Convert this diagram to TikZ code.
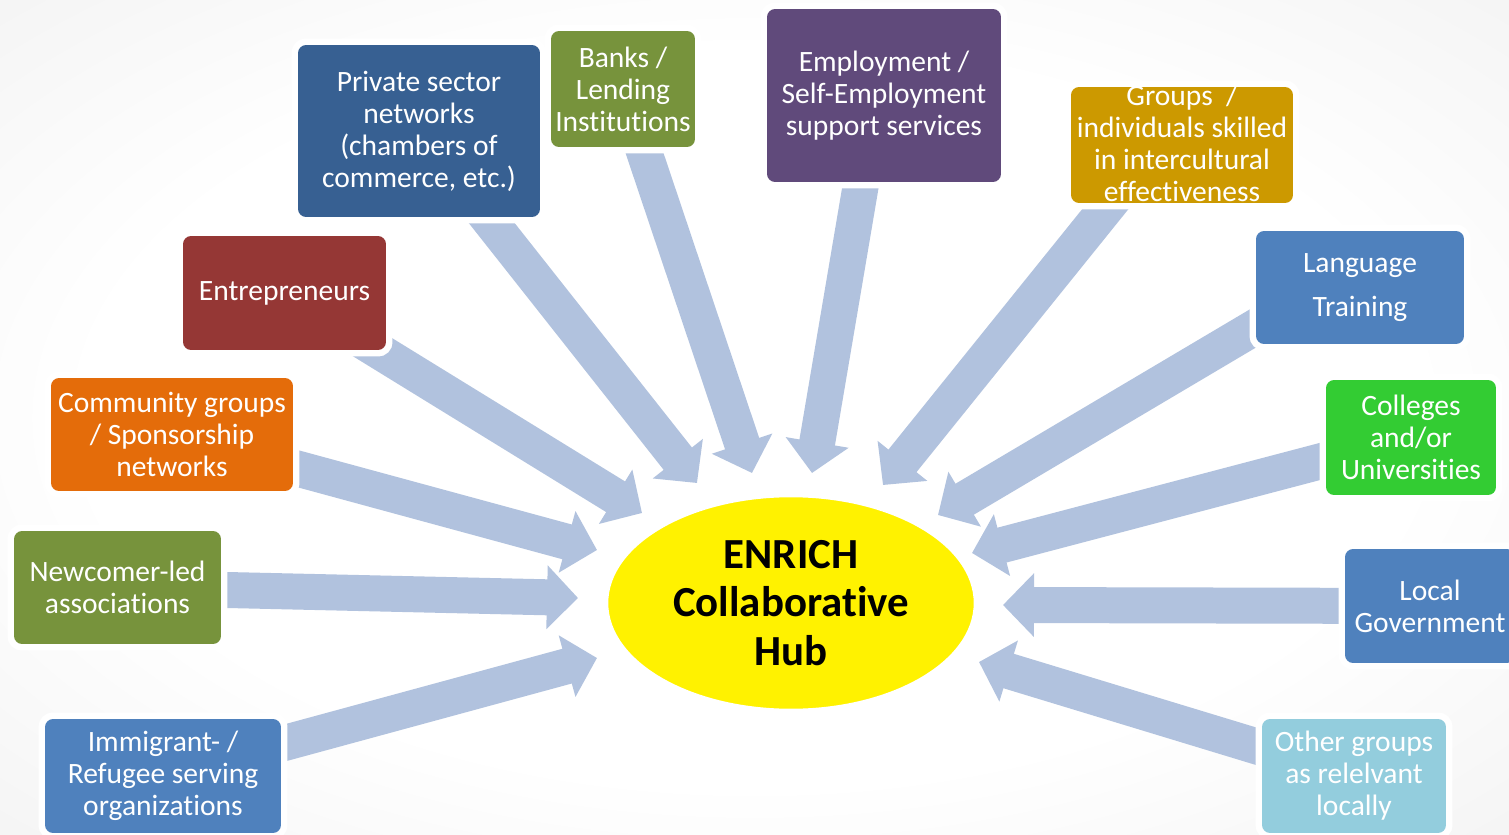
\documentclass[tikz,border=0pt]{standalone}
\usepackage{fontspec}
\setmainfont{Carlito}[Ligatures={NoCommon}]
\usetikzlibrary{calc,arrows.meta,shapes.geometric}
\pgfdeclarelayer{background}
\pgfsetlayers{background,main}
\definecolor{feedblue}{HTML}{B1C2DE}
\definecolor{privblue}{HTML}{376092}
\definecolor{bankgreen}{HTML}{77933C}
\definecolor{emplpurple}{HTML}{604A7B}
\definecolor{grpgold}{HTML}{CC9900}
\definecolor{officeblue}{HTML}{4F81BD}
\definecolor{collgreen}{HTML}{33CC33}
\definecolor{othercyan}{HTML}{93CDDD}
\definecolor{entrred}{HTML}{953735}
\definecolor{commorange}{HTML}{E46C0A}
\pgfdeclareradialshading{paper}{\pgfpoint{0bp}{0bp}}{color(0bp)=(white); color(22bp)=(white); color(55bp)=(black!10); color(75bp)=(black!14)}
\newcommand{\feed}[2]{\draw[feed] (#1) -- (#2);}
\tikzset{
	box/.style={rounded corners=0.16cm, fill=#1, text=white, align=center, inner sep=0pt,
		font=\fontsize{16.8}{18.2}\selectfont, preaction={draw=white, line width=0.26cm}},
	boxtext/.style={text=white, align=center, inner sep=0pt, font=\fontsize{16.8}{18.2}\selectfont},
	feed/.style={draw=feedblue, line width=0.72cm, -{Triangle[width=1.24cm,length=0.62cm]}},
	hubstyle/.style={ellipse, fill=yellow, draw=white, line width=0.05cm, align=center, inner sep=0pt,
		font=\fontsize{24.4}{27.5}\selectfont\bfseries},
}

\begin{document}
\begin{tikzpicture}[x=0.02cm,y=-0.02cm]
	\useasboundingbox (0,0) rectangle (1509,835);
	\begin{pgfonlayer}{background}
		\shade[shading=paper] (0,0) rectangle (1509,835);
	\end{pgfonlayer}

	\node[hubstyle, minimum width=7.36cm, minimum height=4.28cm] (hub) at (791,603) {ENRICH\\Collaborative\\Hub};

	\node[box=privblue, minimum width=4.84cm, minimum height=3.44cm] (priv) at (419,131) {Private sector\\networks\\(chambers of\\commerce, etc.)};
	\node[box=bankgreen, minimum width=2.88cm, minimum height=2.32cm] (bank) at (623,89) {Banks /\\Lending\\Institutions};
	\node[box=emplpurple, minimum width=4.68cm, minimum height=3.46cm] (empl) at (884,95.5) {Employment /\\Self-Employment\\support services};
	\node[box=grpgold, minimum width=4.44cm, minimum height=2.32cm,
		label={[boxtext, yshift=0.04cm]center:{Groups\ \ /\\individuals skilled\\in intercultural\\effectiveness}}] (grp) at (1182,145) {};
	\node[box=officeblue, minimum width=4.16cm, minimum height=2.26cm, font=\fontsize{16.8}{25}\selectfont] (lang) at (1360,287.5) {Language\\Training};
	\node[box=collgreen, minimum width=3.4cm, minimum height=2.3cm] (coll) at (1411,437.5) {Colleges\\and/or\\Universities};
	\node[box=officeblue, minimum width=3.4cm, minimum height=2.28cm] (locg) at (1430,606) {Local\\Government};
	\node[box=othercyan, minimum width=3.68cm, minimum height=2.28cm] (othr) at (1354,776) {Other groups\\as relelvant\\locally};
	\node[box=entrred, minimum width=4.06cm, minimum height=2.28cm] (entr) at (284.5,293) {Entrepreneurs};
	\node[box=commorange, minimum width=4.84cm, minimum height=2.26cm] (comm) at (172,434.5) {Community groups\\/ Sponsorship\\networks};
	\node[box=bankgreen, minimum width=4.14cm, minimum height=2.26cm] (newc) at (117.5,587.5) {Newcomer-led\\associations};
	\node[box=officeblue, minimum width=4.72cm, minimum height=2.28cm] (immi) at (163,776) {Immigrant- /\\Refugee serving\\organizations};

	\coordinate (t-entr) at (642,513);
	\coordinate (t-priv) at (697,483);
	\coordinate (t-bank) at (752,473);
	\coordinate (t-empl) at (812,473);
	\coordinate (t-grp) at (883,485);
	\coordinate (t-lang) at (938,515);
	\coordinate (t-coll) at (972,553);
	\coordinate (t-locg) at (1003,605);
	\coordinate (t-othr) at (979,662);
	\coordinate (t-immi) at (597,658);
	\coordinate (t-newc) at (578,598);
	\coordinate (t-comm) at (597,550);

	\begin{pgfonlayer}{background}
		\feed{entr.center}{t-entr}
		\feed{priv.center}{t-priv}
		\feed{bank.center}{t-bank}
		\feed{$(empl.center)+(-8,0)$}{t-empl}
		\feed{$(grp.center)+(-25,0)$}{t-grp}
		\feed{$(lang.center)+(-38,0)$}{t-lang}
		\feed{coll.center}{t-coll}
		\feed{locg.center}{t-locg}
		\feed{othr.center}{t-othr}
		\feed{immi.center}{t-immi}
		\feed{newc.center}{t-newc}
		\feed{comm.center}{t-comm}
	\end{pgfonlayer}
\end{tikzpicture}
\end{document}
